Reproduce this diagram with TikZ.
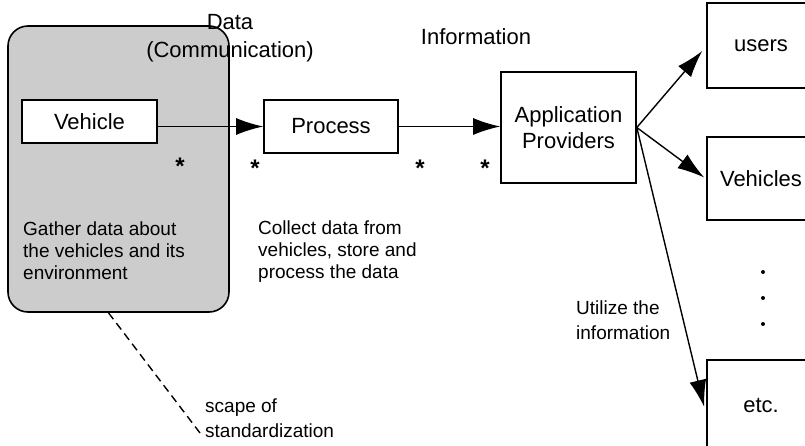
\documentclass[tikz,border=0pt]{standalone}
\usepackage{fontspec}
\setmainfont{Liberation Sans}
\usetikzlibrary{arrows.meta,calc}
\tikzset{
  box/.style={draw, line width=1.6pt, inner sep=0pt, fill=white,
    font=\fontsize{22}{26}\selectfont, align=center},
  lbl/.style={inner sep=0pt, font=\fontsize{22}{28}\selectfont, align=center},
  note/.style={inner sep=0pt, font=\fontsize{19}{22}\selectfont, align=left, anchor=west},
  starmark/.style={inner sep=0pt, font=\fontsize{24}{24}\selectfont\bfseries, anchor=base},
  conn/.style={line width=1.4pt, -{Latex[length=27pt,width=17pt]}},
  dots/.style={circle, fill=black, inner sep=0pt, minimum size=4pt}
}
\begin{document}
\begin{tikzpicture}[x=1pt,y=-1pt]
\useasboundingbox (0,0) rectangle (805,446);
\clip (0,0) rectangle (805,446);
% shaded zone
\node[draw, line width=1.6pt, rounded corners=20pt, fill=black!20,
  minimum width=221pt, minimum height=286pt, inner sep=0pt] (zone) at (118.5,169) {};
% boxes
\node[box, minimum width=135pt, minimum height=43pt] (veh) at (89.5,121.5) {Vehicle};
\node[box, minimum width=134pt, minimum height=53pt] (proc) at (331,126.5) {Process};
\node[box, minimum width=135pt, minimum height=111pt] (app) at (568.5,127.5) {Application\\Providers};
\node[box, minimum width=108pt, minimum height=85pt] (users) at (761,45.5) {users};
\node[box, minimum width=108pt, minimum height=83pt] (vehs) at (761,178.5) {Vehicles};
\node[box, minimum width=108pt, minimum height=90pt] (etc) at (761,405) {etc.};
% labels
\node[lbl] (data) at (230,38) {Data\\(Communication)};
\node[lbl] (info) at (476,37) {Information};
\node[note] (gather) at (23,251) {Gather data about\\the vehicles and its\\environment};
\node[note] (collect) at (258,252) {Collect data from\\vehicles, store and\\process the data};
\node[note, font=\fontsize{19}{25}\selectfont] (util) at (576,320) {Utilize the\\information};
\node[note, font=\fontsize{19}{25}\selectfont] (scope) at (205,418) {scape of\\standardization};
% stars
\node[starmark] (s1) at (180,175) {*};
\node[starmark] (s2) at (255,177) {*};
\node[starmark] (s3) at (420,177) {*};
\node[starmark] (s4) at (485,177) {*};
% dots
\node[dots] (d1) at (763,272) {};
\node[dots] (d2) at (763,298) {};
\node[dots] (d3) at (763,324) {};
% connectors
\draw[conn] (veh.east |- proc.west) -- (proc.west);
\draw[conn] (proc.east) -- (proc.east -| app.west);
\draw[conn] (app.east) -- ($(users.west)+(-4,5.5)$);
\draw[conn] (app.east) -- ($(vehs.west)+(-2,-1)$);
\draw[conn] (app.east) -- ($(etc.west)+(-2,2)$);
\coordinate (scopeend) at (200,433);
\draw[line width=1.4pt, dash pattern=on 8pt off 5pt] ($(zone.south)+(-10,0)$) -- (scopeend);
\end{tikzpicture}
\end{document}
